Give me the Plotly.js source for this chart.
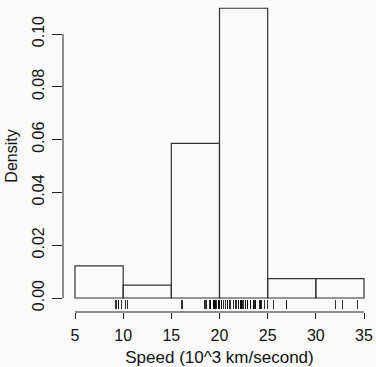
<!DOCTYPE html>
<html>
<head>
<meta charset="utf-8">
<script src="https://cdn.plot.ly/plotly-3.0.1.min.js"></script>
<style>html,body{margin:0;padding:0;background:#fafafa;}</style>
</head>
<body>
<div id="chart" style="width:376px;height:367px;"></div>
<script>
// Galaxy speeds (km/second), MASS::galaxies
const speedsKm = [9172, 9350, 9483, 9558, 9775, 10227, 10406, 16084, 16170, 18419,
  18552, 18600, 18927, 19052, 19070, 19330, 19343, 19349, 19440, 19473,
  19529, 19541, 19547, 19663, 19846, 19856, 19863, 19914, 19918, 19973,
  19989, 20166, 20175, 20179, 20196, 20215, 20221, 20415, 20629, 20795,
  20821, 20846, 20875, 20986, 21137, 21492, 21701, 21814, 21921, 21960,
  22185, 22209, 22242, 22249, 22314, 22374, 22495, 22746, 22747, 22888,
  22914, 23206, 23241, 23263, 23484, 23538, 23542, 23666, 23706, 23711,
  24129, 24285, 24289, 24366, 24717, 24990, 25633, 26960, 26995, 32065,
  32789, 34279];
const speeds = speedsKm.map(v => v / 1000);
const binStart = 5, binEnd = 35, binSize = 5;
const xTicks = [5, 10, 15, 20, 25, 30, 35];
const yTicks = [0, 0.02, 0.04, 0.06, 0.08, 0.10];
const yTickText = ['0.00', '0.02', '0.04', '0.06', '0.08', '0.10'];

const axisColor = '#222';
const fontFam = 'Liberation Sans, Arial, Helvetica, sans-serif';

const hist = {
  type: 'histogram',
  x: speeds,
  histnorm: 'probability density',
  xbins: {start: binStart, end: binEnd, size: binSize},
  marker: {color: 'rgba(0,0,0,0)', line: {color: '#333', width: 1.2}},
  hoverinfo: 'skip'
};
// carrier for the rug axis (ticks at every observation); invisible itself
const rugCarrier = {
  type: 'scatter', mode: 'markers', x: speeds, y: speeds.map(() => 0),
  xaxis: 'x2', yaxis: 'y', marker: {opacity: 0, size: 1}, hoverinfo: 'skip'
};

const xRange = [3.754, 36.246];
const layout = {
  width: 376, height: 367,
  margin: {l: 63, r: 0, t: 0, b: 55, pad: 0},
  paper_bgcolor: '#fafafa', plot_bgcolor: '#fafafa',
  showlegend: false,
  font: {family: fontFam, size: 16, color: '#111'},
  bargap: 0,
  xaxis: {
    range: xRange, tickmode: 'array', tickvals: xTicks,
    ticks: 'outside', ticklen: 6, tickwidth: 1, tickcolor: axisColor,
    showline: false, showgrid: false, zeroline: false,
    tickfont: {size: 16, color: '#111'},
    ticklabelstandoff: 3,
    title: {text: 'Speed (10^3 km/second)', font: {size: 17, color: '#111'}, standoff: 8}
  },
  xaxis2: {
    overlaying: 'x', anchor: 'free', position: 0.0083, side: 'bottom',
    range: xRange, tickmode: 'array', tickvals: speeds,
    ticks: 'inside', ticklen: 9.5, tickwidth: 0.8, tickcolor: '#000',
    showticklabels: false, showline: false, showgrid: false, zeroline: false
  },
  yaxis: {
    range: [-0.005303, 0.112879], tickmode: 'array', tickvals: yTicks, ticktext: yTickText,
    ticks: 'outside', ticklen: 10, tickwidth: 1, tickcolor: axisColor,
    tickangle: -90,
    showline: false, showgrid: false, zeroline: false,
    tickfont: {size: 16, color: '#111'},
    ticklabelstandoff: 2,
    title: {text: 'Density', font: {size: 16, color: '#111'}, standoff: 7}
  },
  shapes: [
    {type: 'line', xref: 'x', yref: 'paper', x0: Math.min(...xTicks), x1: Math.max(...xTicks), y0: 0, y1: 0,
     line: {color: axisColor, width: 1}},
    {type: 'line', xref: 'paper', yref: 'y', x0: 0, x1: 0, y0: Math.min(...yTicks), y1: Math.max(...yTicks),
     line: {color: axisColor, width: 1}}
  ]
};

Plotly.newPlot('chart', [hist, rugCarrier], layout, {displayModeBar: false, staticPlot: true});
</script>
</body>
</html>
